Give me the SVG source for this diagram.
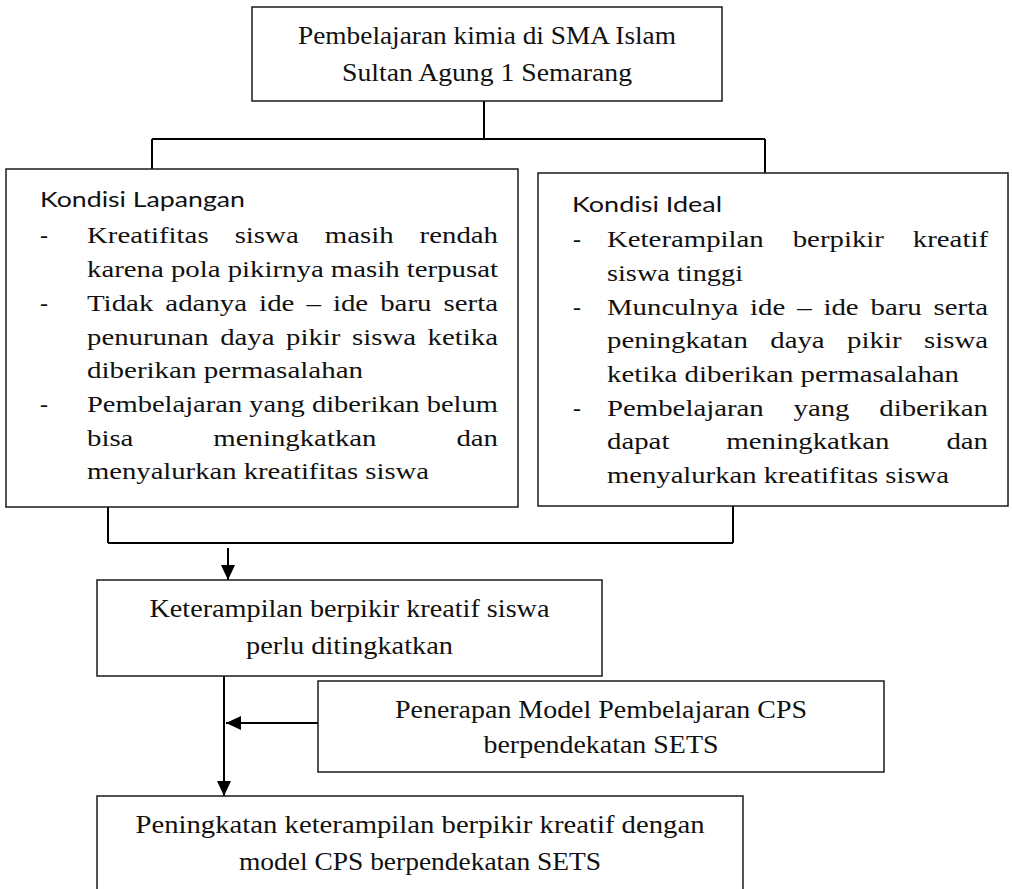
<svg xmlns="http://www.w3.org/2000/svg" width="1012" height="889" viewBox="0 0 1012 889">
<defs>
<style>
.box{fill:#fff;stroke:#1a1a1a;stroke-width:1.5}
.ln{fill:none;stroke:#000;stroke-width:2}
.c{font-family:"Liberation Serif","Times New Roman",serif;font-size:26px;fill:#111;text-anchor:middle}
.t{font-family:"Liberation Serif","Times New Roman",serif;font-size:24px;fill:#111}
.h{font-family:Lato,"Open Sans","Liberation Sans",sans-serif;font-size:21.5px;fill:#111}
</style>
<marker id="ah" markerUnits="userSpaceOnUse" markerWidth="16" markerHeight="14" refX="15" refY="7" orient="auto">
<path d="M0,0 L15,7 L0,14 z" fill="#000"/>
</marker>
</defs>
<rect width="1012" height="889" fill="#fff"/>

<g id="connectors">
<path class="ln" d="M484,101 V139 M152,139 H765 M152,139 V169 M765,139 V173"/>
<path class="ln" d="M108,507 V543 M733,506 V543"/>
<path class="ln" d="M108,543 H733" stroke-width="2.5"/>
<path class="ln" d="M228,548 V580" marker-end="url(#ah)"/>
<path class="ln" d="M224,676 V796" marker-end="url(#ah)"/>
<path class="ln" d="M318,723 H226" marker-end="url(#ah)"/>
</g>

<g id="top">
<rect class="box" x="252" y="7" width="470" height="94"/>
<text class="c" x="487" y="44" textLength="378" lengthAdjust="spacingAndGlyphs">Pembelajaran kimia di SMA Islam</text>
<text class="c" x="487" y="81" textLength="290" lengthAdjust="spacingAndGlyphs">Sultan Agung 1 Semarang</text>
</g>

<g id="kondisi-lapangan">
<rect class="box" x="6" y="169" width="512" height="338"/>
<text class="h" x="40" y="207" textLength="205" lengthAdjust="spacingAndGlyphs">Kondisi Lapangan</text>
<text class="t" x="40" y="243">-</text>
<text class="t" x="87" y="243" textLength="411" lengthAdjust="spacingAndGlyphs" word-spacing="15.7">Kreatifitas siswa masih rendah</text>
<text class="t" x="87" y="277" textLength="411" lengthAdjust="spacingAndGlyphs">karena pola pikirnya masih terpusat</text>
<text class="t" x="40" y="311">-</text>
<text class="t" x="87" y="311" textLength="411" lengthAdjust="spacingAndGlyphs" word-spacing="4">Tidak adanya ide – ide baru serta</text>
<text class="t" x="87" y="345" textLength="411" lengthAdjust="spacingAndGlyphs" word-spacing="3.65">penurunan daya pikir siswa ketika</text>
<text class="t" x="87" y="378" textLength="276" lengthAdjust="spacingAndGlyphs">diberikan permasalahan</text>
<text class="t" x="40" y="412">-</text>
<text class="t" x="87" y="412" textLength="411" lengthAdjust="spacingAndGlyphs">Pembelajaran yang diberikan belum</text>
<text class="t" x="87" y="446" textLength="411" lengthAdjust="spacingAndGlyphs" word-spacing="60.6">bisa meningkatkan dan</text>
<text class="t" x="87" y="479" textLength="342" lengthAdjust="spacingAndGlyphs">menyalurkan kreatifitas siswa</text>
</g>

<g id="kondisi-ideal">
<rect class="box" x="538" y="173" width="470" height="333"/>
<text class="h" x="572" y="212" textLength="150" lengthAdjust="spacingAndGlyphs">Kondisi Ideal</text>
<text class="t" x="573" y="247">-</text>
<text class="t" x="607" y="247" textLength="381" lengthAdjust="spacingAndGlyphs" word-spacing="18.1">Keterampilan berpikir kreatif</text>
<text class="t" x="607" y="281" textLength="136" lengthAdjust="spacingAndGlyphs">siswa tinggi</text>
<text class="t" x="573" y="315">-</text>
<text class="t" x="607" y="315" textLength="381" lengthAdjust="spacingAndGlyphs" word-spacing="3.9">Munculnya ide – ide baru serta</text>
<text class="t" x="607" y="348" textLength="381" lengthAdjust="spacingAndGlyphs" word-spacing="12.7">peningkatan daya pikir siswa</text>
<text class="t" x="607" y="382" textLength="352" lengthAdjust="spacingAndGlyphs">ketika diberikan permasalahan</text>
<text class="t" x="573" y="416">-</text>
<text class="t" x="607" y="416" textLength="381" lengthAdjust="spacingAndGlyphs" word-spacing="18.8">Pembelajaran yang diberikan</text>
<text class="t" x="607" y="449" textLength="381" lengthAdjust="spacingAndGlyphs" word-spacing="41.4">dapat meningkatkan dan</text>
<text class="t" x="607" y="483" textLength="342" lengthAdjust="spacingAndGlyphs">menyalurkan kreatifitas siswa</text>
</g>

<g id="perlu-ditingkatkan">
<rect class="box" x="97" y="580" width="505" height="96"/>
<text class="c" x="349.5" y="617" textLength="400" lengthAdjust="spacingAndGlyphs">Keterampilan berpikir kreatif siswa</text>
<text class="c" x="349.5" y="654" textLength="207" lengthAdjust="spacingAndGlyphs">perlu ditingkatkan</text>
</g>

<g id="penerapan">
<rect class="box" x="318" y="681" width="566" height="91"/>
<text class="c" x="601" y="718" textLength="412" lengthAdjust="spacingAndGlyphs">Penerapan Model Pembelajaran CPS</text>
<text class="c" x="601" y="753" textLength="235" lengthAdjust="spacingAndGlyphs">berpendekatan SETS</text>
</g>

<g id="peningkatan">
<rect class="box" x="97" y="796" width="646" height="110"/>
<text class="c" x="420" y="833" textLength="569" lengthAdjust="spacingAndGlyphs">Peningkatan keterampilan berpikir kreatif dengan</text>
<text class="c" x="420" y="870" textLength="362" lengthAdjust="spacingAndGlyphs">model CPS berpendekatan SETS</text>
</g>
</svg>
